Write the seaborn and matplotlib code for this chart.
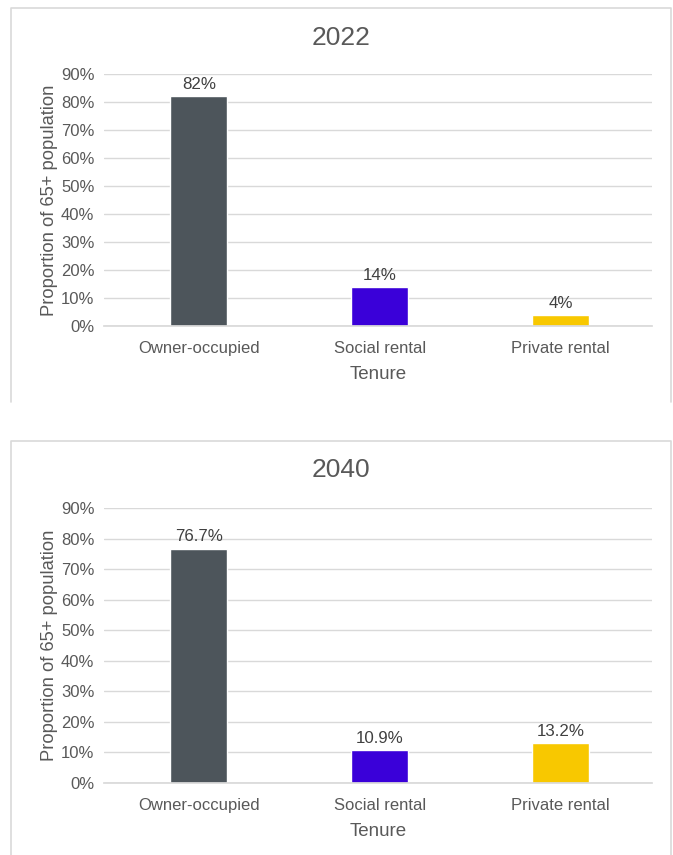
import matplotlib
matplotlib.use("Agg")
import matplotlib.pyplot as plt
import seaborn as sns
import pandas as pd
from matplotlib.lines import Line2D
from matplotlib.ticker import PercentFormatter

categories = ["Owner-occupied", "Social rental", "Private rental"]
values_2022 = [0.82, 0.14, 0.04]
labels_2022 = ["82%", "14%", "4%"]
values_2040 = [0.767, 0.109, 0.132]
labels_2040 = ["76.7%", "10.9%", "13.2%"]
colors = ["#4D555B", "#3A00D9", "#F8C800"]
yticks = [0, 0.1, 0.2, 0.3, 0.4, 0.5, 0.6, 0.7, 0.8, 0.9]

sns.set_theme(style="white")
plt.rcParams["font.family"] = ["Liberation Sans", "DejaVu Sans"]

W, H = 673, 855
fig = plt.figure(figsize=(W / 100, H / 100), dpi=100)
TXT = "#595959"
BORDER = "#D9D9D9"

def px(x0, y0, x1, y1):
    return [x0 / W, 1 - y1 / H, (x1 - x0) / W, (y1 - y0) / H]

def line(xs, ys):
    fig.add_artist(Line2D([x / W for x in xs], [1 - y / H for y in ys],
                          color=BORDER, lw=1.2, transform=fig.transFigure))

line([11, 11, 671, 671], [402, 8, 8, 402])
line([11, 11, 671, 671], [855, 441, 441, 855])

def draw(ax, vals, labs, title, title_y):
    df = pd.DataFrame({"Tenure": categories, "v": vals})
    sns.barplot(data=df, x="Tenure", y="v", hue="Tenure", palette=colors,
                order=categories, hue_order=categories, width=0.315,
                legend=False, ax=ax, saturation=1)
    ax.set_ylim(0, 0.9)
    ax.set_xlim(-0.525, 2.505)
    ax.set_yticks(yticks)
    ax.yaxis.set_major_formatter(PercentFormatter(1.0, decimals=0))
    ax.grid(axis="y", color="#D9D9D9", lw=1)
    ax.set_axisbelow(True)
    for s in ["top", "right", "left"]:
        ax.spines[s].set_visible(False)
    ax.spines["bottom"].set_color("#D9D9D9")
    ax.tick_params(axis="both", length=0, labelsize=12, colors=TXT, pad=7)
    ax.tick_params(axis="x", pad=11)
    ax.set_ylabel("Proportion of 65+ population", fontsize=13.2, color=TXT, labelpad=2)
    ax.set_xlabel("Tenure", fontsize=13.5, color=TXT, labelpad=7)
    for c, lab in zip(ax.containers, [[l] for l in labs]):
        ax.bar_label(c, labels=lab, padding=3, fontsize=12.2, color="#404040")
    fig.text(341 / W, 1 - title_y / H, title, ha="center", va="center",
             fontsize=19, color=TXT)

ax1 = fig.add_axes(px(104, 74, 652, 326))
draw(ax1, values_2022, labels_2022, "2022", 38)
ax2 = fig.add_axes(px(104, 508, 652, 783))
draw(ax2, values_2040, labels_2040, "2040", 470)

fig.savefig("out.png", dpi=100)
